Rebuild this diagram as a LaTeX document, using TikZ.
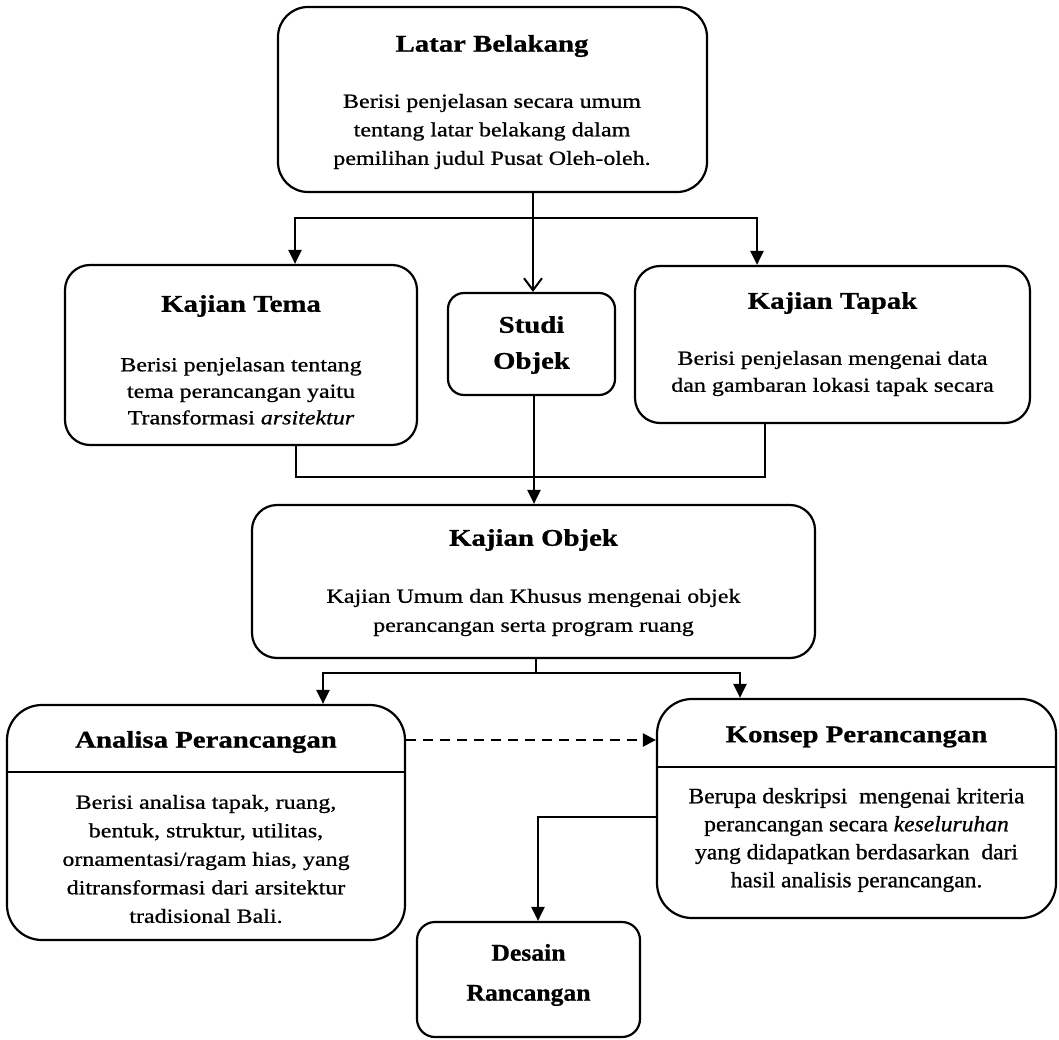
\documentclass[tikz,border=0pt]{standalone}
\usepackage{fontspec}
\setmainfont{Liberation Serif}[FakeStretch=1.2, FakeBold=0.8]
\newfontfamily\narrowfont{Liberation Serif}[FakeStretch=1.07, FakeBold=0.8]
\usetikzlibrary{arrows.meta}
\begin{document}
\begin{tikzpicture}[x=1pt,y=-1pt,
  box/.style={draw, line width=2.2pt, rounded corners=#1, inner sep=0pt},
  box/.default=25pt,
  ttl/.style={font=\fontsize{24}{36}\selectfont\bfseries, align=center, inner sep=0pt},
  txt/.style={font=\fontsize{20}{#1}\selectfont, align=center, inner sep=0pt},
  txt/.default=28.5pt,
  conn/.style={line width=2.2pt},
  arr/.style={line width=2.2pt, -{Triangle[length=14pt,width=13pt]}},
  openarr/.style={line width=2.2pt, -{Straight Barb[length=12pt,width=18pt,line width=2pt]}},
  dashedarr/.style={line width=2.2pt, dash pattern=on 10pt off 7pt, -{Triangle[length=13pt,width=13pt]}}
]
\useasboundingbox (0,0) rectangle (1059,1040);

% ---- boxes ----
\node[box=30pt, minimum width=429pt, minimum height=185pt] (latar) at (492.5,99.5) {};
\node[box=25pt, minimum width=352pt, minimum height=180pt] (tema) at (241,355) {};
\node[box=16pt, minimum width=167pt, minimum height=102pt] (studi) at (531.5,344) {};
\node[box=25pt, minimum width=395pt, minimum height=157pt] (tapak) at (832.5,344.5) {};
\node[box=25pt, minimum width=563pt, minimum height=153pt] (objek) at (533.5,581.5) {};
\node[box=35pt, minimum width=398pt, minimum height=235pt] (analisa) at (206,822.5) {};
\node[box=35pt, minimum width=399pt, minimum height=219pt] (konsep) at (856.5,808.5) {};
\node[box=18pt, minimum width=223pt, minimum height=115pt] (desain) at (528.5,979.5) {};

% ---- dividers ----
\coordinate (divA) at (0,772);
\coordinate (divK) at (0,767);
\draw[conn] (analisa.west |- divA) -- (analisa.east |- divA);
\draw[conn] (konsep.west |- divK) -- (konsep.east |- divK);

% ---- texts ----
\node[ttl] (latarT) at (492,46) {Latar Belakang};
\node[txt] (latarB) at (492,131.5) {Berisi penjelasan secara umum\\tentang latar belakang dalam\\pemilihan judul Pusat Oleh-oleh.};

\node[ttl] (temaT) at (241,306) {Kajian Tema};
\node[txt=26.5pt] (temaB) at (241,391) {Berisi penjelasan tentang\\tema perancangan yaitu\\Transformasi \textit{arsitektur}};

\node[ttl] (studiT) at (531.5,345) {Studi\\Objek};

\node[ttl] (tapakT) at (832.5,303) {Kajian Tapak};
\node[txt=27pt] (tapakB) at (832.5,373.5) {Berisi penjelasan mengenai data\\dan gambaran lokasi tapak secara};

\node[ttl] (objekT) at (533.5,540) {Kajian Objek};
\node[txt=29pt] (objekB) at (533.5,612.5) {Kajian Umum dan Khusus mengenai objek\\perancangan serta program ruang};

\node[ttl] (analisaT) at (206,742) {Analisa Perancangan};
\node[txt] (analisaB) at (206,859) {Berisi analisa tapak, ruang,\\bentuk, struktur, utilitas,\\ornamentasi/ragam hias, yang\\ditransformasi dari arsitektur\\tradisional Bali.};

\node[ttl] (konsepT) at (856.5,737) {Konsep Perancangan};
\node[font=\narrowfont\fontsize{22}{28}\selectfont, align=center, inner sep=0pt] (konsepB) at (856.5,840) {Berupa deskripsi\ \ mengenai kriteria\\perancangan secara \textit{keseluruhan}\\yang didapatkan berdasarkan\ \ dari\\hasil analisis perancangan.};

\node[font=\narrowfont\fontsize{24}{40}\selectfont\bfseries, align=center, inner sep=0pt] (desainT) at (528.5,975) {Desain\\Rancangan};

% ---- connectors ----
\coordinate (xa) at (295,218);
\coordinate (xb) at (757,218);
\coordinate (xc) at (533,218);
\draw[openarr] (latar.south -| xc) -- (studi.north -| xc);
\draw[arr] (xc) -| (tema.north -| xa);
\draw[arr] (xc) -| (tapak.north -| xb);

\coordinate (ya) at (296,477);
\coordinate (yb) at (765,477);
\coordinate (yc) at (534,477);
\draw[conn] (tema.south -| ya) |- (yb) -- (tapak.south -| yb);
\draw[arr] (studi.south -| yc) -- (objek.north -| yc);

\coordinate (sa) at (323,673);
\coordinate (sb) at (740,673);
\coordinate (sc) at (536,673);
\draw[conn] (objek.south -| sc) -- (sc);
\draw[arr] (sc) -| (analisa.north -| sa);
\draw[arr] (sc) -| (konsep.north -| sb);

\coordinate (dy) at (0,740);
\draw[dashedarr] (analisa.east |- dy) -- (konsep.west |- dy);

\coordinate (dd) at (538,817);
\draw[arr] (konsep.west |- dd) -| (desain.north -| dd);
\end{tikzpicture}
\end{document}
